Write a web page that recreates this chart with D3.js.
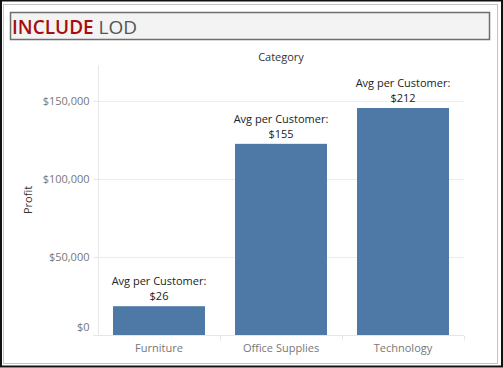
<!DOCTYPE html>
<html>
<head>
<meta charset="utf-8">
<script src="https://cdn.jsdelivr.net/npm/d3@7"></script>
<style>
  body { margin: 0; background: #fff; }
  svg text { font-family: "Open Sans", sans-serif; }
</style>
</head>
<body>
<div id="chart"></div>
<script>
// data
var categories = ["Furniture", "Office Supplies", "Technology"];
var profit = [18451, 122491, 145455];
var avgPerCustomer = [26, 155, 212];
var yTicks = [0, 50000, 100000, 150000];

var W = 503, H = 368;
var pane = { left: 98, right: 464, top: 65, bottom: 335 };

var svg = d3.select("#chart").append("svg")
    .attr("width", W)
    .attr("height", H);

// outer frames
svg.append("rect")
    .attr("x", 1).attr("y", 0.5)
    .attr("width", 501).attr("height", 366)
    .attr("fill", "#fff")
    .attr("stroke", "#111").attr("stroke-width", 2);
svg.append("rect")
    .attr("x", 3.5).attr("y", 4.5)
    .attr("width", 494).attr("height", 359)
    .attr("fill", "none")
    .attr("stroke", "#c4c4c4").attr("stroke-width", 1);

// title box
svg.append("rect")
    .attr("x", 10.5).attr("y", 12.5)
    .attr("width", 479).attr("height", 27)
    .attr("fill", "#f3f3f3")
    .attr("stroke", "#6e6e6e").attr("stroke-width", 1.5);

var title = svg.append("text")
    .attr("x", 12).attr("y", 33.5)
    .style("font-size", "19px");
title.append("tspan").text("INCLUDE")
    .attr("fill", "#a50e0e").style("font-weight", 600);
title.append("tspan").text(" LOD")
    .attr("fill", "#555");

var x = d3.scaleBand()
    .domain(categories)
    .range([pane.left, pane.right])
    .paddingInner(0.246)
    .paddingOuter(0.123);

var y = d3.scaleLinear()
    .domain([0, 173000])
    .range([pane.bottom, pane.top]);

// gridlines
svg.append("g").selectAll("line")
    .data(yTicks.slice(1))
    .enter().append("line")
    .attr("x1", pane.left).attr("x2", pane.right)
    .attr("y1", function(d){ return Math.round(y(d)) + 0.5; })
    .attr("y2", function(d){ return Math.round(y(d)) + 0.5; })
    .attr("stroke", "#ececec");

// y axis
var yAxis = svg.append("g")
    .attr("transform", "translate(" + (pane.left + 0.5) + ",0)")
    .call(d3.axisLeft(y).tickValues(yTicks).tickSize(5).tickPadding(4)
        .tickFormat(function(d){ return "$" + d3.format(",")(d); }));
yAxis.select(".domain").attr("d", "M0," + pane.top + "V" + pane.bottom).attr("stroke", "#e6e6e6");
yAxis.selectAll(".tick line").attr("stroke", "#e6e6e6");
yAxis.selectAll(".tick text")
    .attr("fill", "#777")
    .style("font-size", "11px")
    .attr("dy", function(d){ return d === 0 ? "-0.4em" : "0.32em"; });

// x axis
var xAxis = svg.append("g")
    .attr("transform", "translate(0," + (pane.bottom + 0.5) + ")");
xAxis.append("line")
    .attr("x1", pane.left - 5).attr("x2", pane.right)
    .attr("stroke", "#e6e6e6");
xAxis.selectAll(".divider")
    .data(categories.slice(1).concat(["end"]))
    .enter().append("line")
    .attr("class", "divider")
    .attr("x1", function(d, i){ return Math.round(pane.left + x.step() * (i + 1)) + 0.5; })
    .attr("x2", function(d, i){ return Math.round(pane.left + x.step() * (i + 1)) + 0.5; })
    .attr("y1", 0).attr("y2", 5)
    .attr("stroke", "#e6e6e6");
xAxis.selectAll(".cat")
    .data(categories)
    .enter().append("text")
    .attr("class", "cat")
    .attr("x", function(d){ return x(d) + x.bandwidth() / 2; })
    .attr("y", 16)
    .attr("text-anchor", "middle")
    .attr("fill", "#777")
    .style("font-size", "11px")
    .text(function(d){ return d; });

// axis titles
svg.append("text")
    .attr("x", (pane.left + pane.right) / 2).attr("y", 61)
    .attr("text-anchor", "middle")
    .attr("fill", "#333")
    .style("font-size", "11px")
    .text("Category");
svg.append("text")
    .attr("transform", "translate(32," + ((pane.top + pane.bottom) / 2) + ") rotate(-90)")
    .attr("text-anchor", "middle")
    .attr("fill", "#333")
    .style("font-size", "11px")
    .text("Profit");

// bars
svg.append("g").selectAll("rect")
    .data(categories)
    .enter().append("rect")
    .attr("x", function(d){ return x(d); })
    .attr("width", x.bandwidth())
    .attr("y", function(d, i){ return y(profit[i]); })
    .attr("height", function(d, i){ return pane.bottom - y(profit[i]); })
    .attr("fill", "#4e79a7");

// labels
var labels = svg.append("g").selectAll("text")
    .data(categories)
    .enter().append("text")
    .attr("text-anchor", "middle")
    .attr("fill", "#222")
    .style("font-size", "11px");
labels.append("tspan")
    .attr("x", function(d){ return x(d) + x.bandwidth() / 2; })
    .attr("y", function(d, i){ return y(profit[i]) - 21; })
    .text("Avg per Customer:");
labels.append("tspan")
    .attr("x", function(d){ return x(d) + x.bandwidth() / 2; })
    .attr("y", function(d, i){ return y(profit[i]) - 6; })
    .text(function(d, i){ return "$" + avgPerCustomer[i]; });
</script>
</body>
</html>
